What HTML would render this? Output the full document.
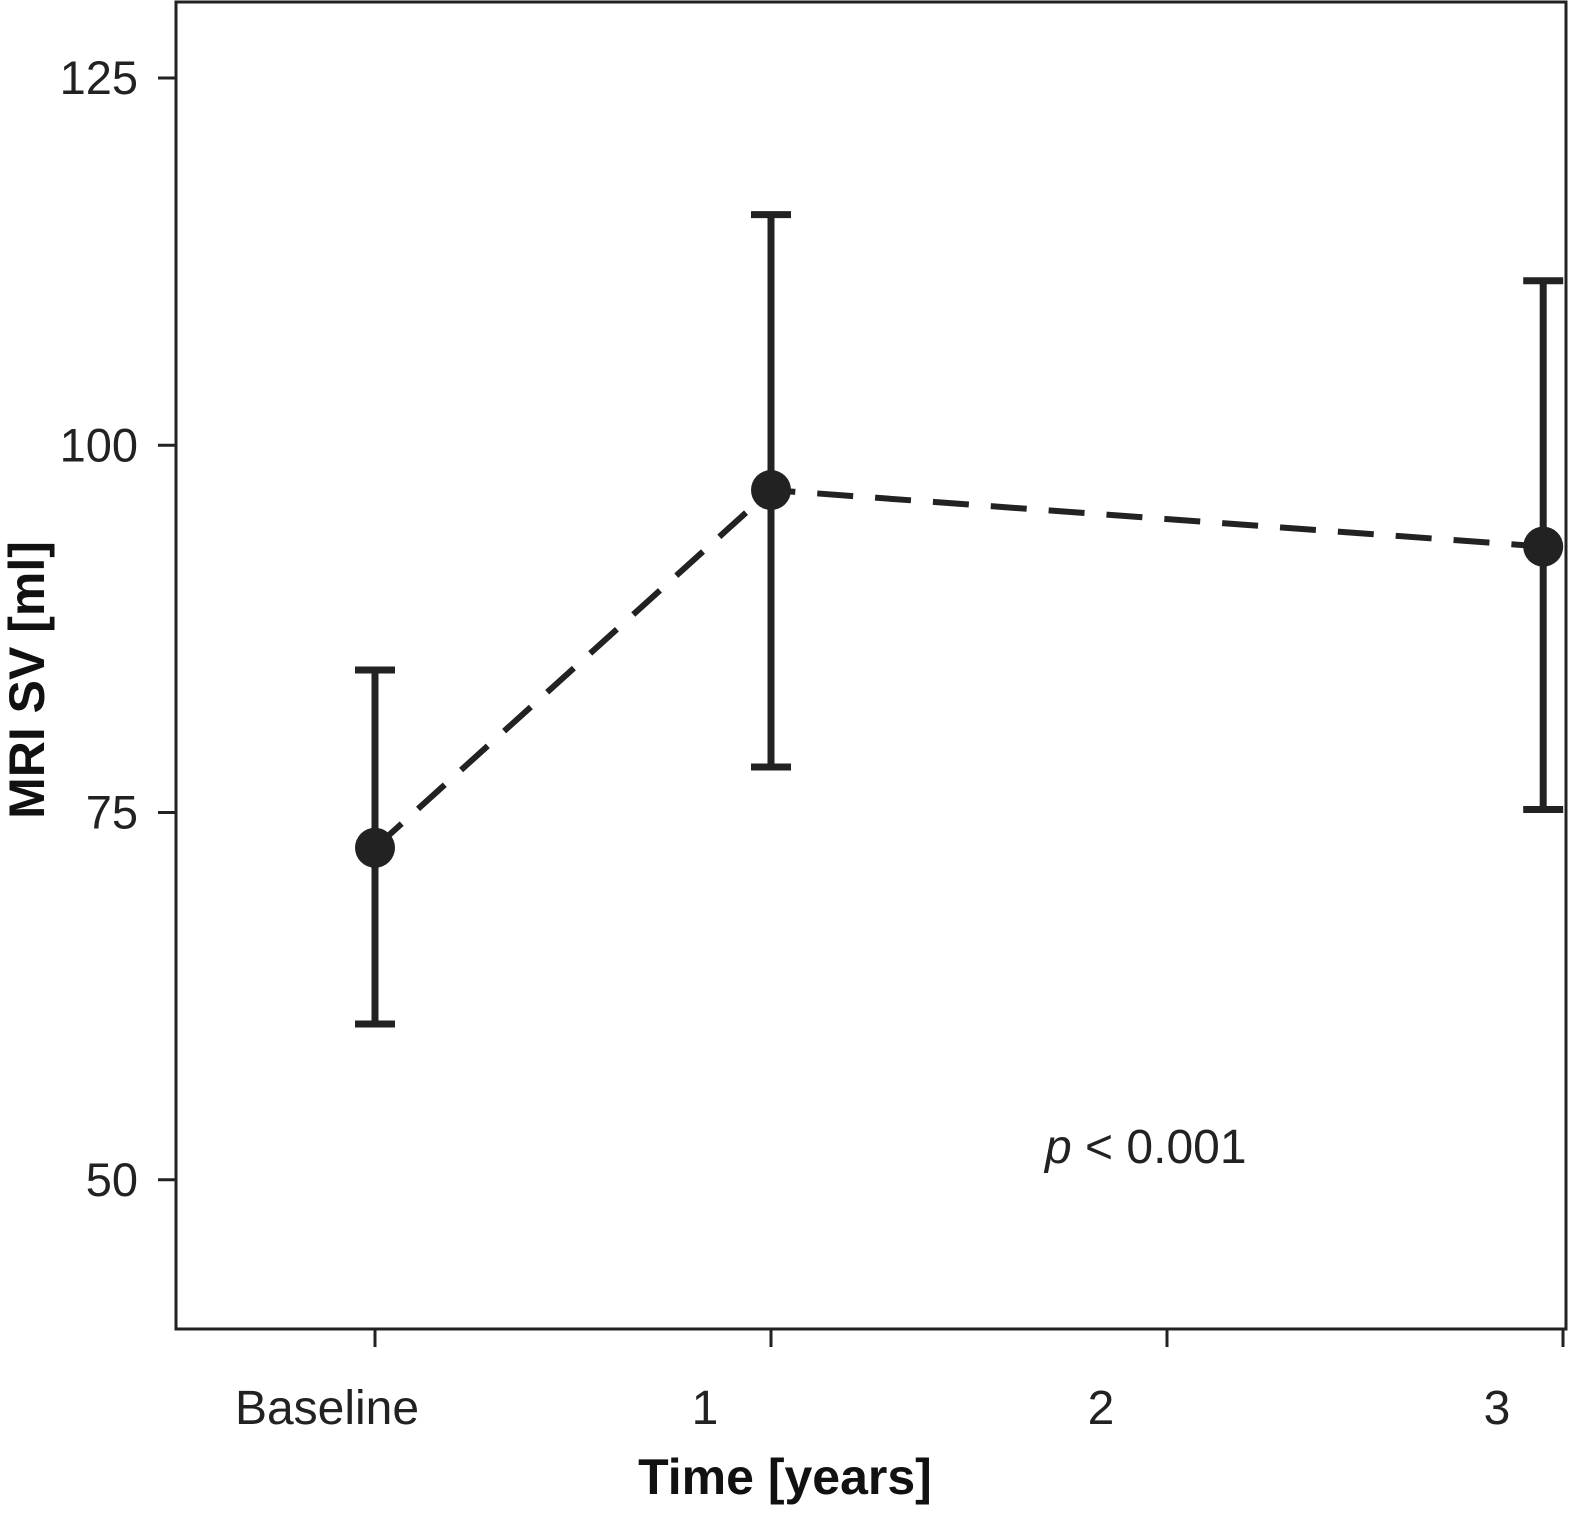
<!DOCTYPE html>
<html><head><meta charset="utf-8"><style>
html,body{margin:0;padding:0;background:#fff;}
svg{display:block;font-family:"Liberation Sans",sans-serif;}
</style></head><body>
<svg id="chart" width="1576" height="1514" viewBox="0 0 1576 1514">
<rect x="176" y="2" width="1390" height="1327" fill="none" stroke="#222" stroke-width="3"/>
<g id="axes"></g>
<g id="marks"></g>
<text x="1045" y="1163" font-size="48" font-weight="300" fill="#222"><tspan font-style="italic">p</tspan> &lt; 0.001</text>
<text x="785" y="1494" font-size="50" font-weight="bold" text-anchor="middle" fill="#111">Time [years]</text>
<text transform="translate(44,680) rotate(-90)" font-size="50" font-weight="bold" text-anchor="middle" fill="#111">MRI SV [ml]</text>
</svg>
<script>
const categories = ["Baseline","1","2","3"];
const xTickPositions = [0,1,2,3];
const yTicks = [50,75,100,125];
const pointX = [0,1,2.95];
const means = [72.6,96.95,93.1];
const upper = [84.7,115.7,111.2];
const lower = [60.6,78.1,75.2];

const NS="http://www.w3.org/2000/svg";
const X = v => 375 + v*396;
const Y = v => 78 + (125 - v)*14.69;
function mk(tag, attrs, parent){const e=document.createElementNS(NS,tag);for(const k in attrs)e.setAttribute(k,attrs[k]);parent.appendChild(e);return e;}
const axes=document.getElementById('axes'), marks=document.getElementById('marks');
yTicks.forEach(t=>{
  const l=mk('line',{x1:158,x2:176,y1:Y(t),y2:Y(t),stroke:'#222','stroke-width':3},axes);
  
  
  const tx=mk('text',{x:138,y:Y(t)+16,'font-size':47,'font-weight':300,'text-anchor':'end',fill:'#222'},axes);
  tx.textContent=t;
  
  
});
categories.forEach((c,i)=>{
  const x=X(xTickPositions[i]);
  const l=mk('line',{x1:x,x2:x,y1:1329,y2:1347,stroke:'#222','stroke-width':3},axes);
  
  
  const tx=mk('text',{x:x-(i===0?48:66),y:1424,'font-size':48,'font-weight':300,'text-anchor':'middle',fill:'#222'},axes);
  tx.textContent=c;
  
  
});
const pts=pointX.map((v,i)=>X(v)+','+Y(means[i])).join(' ');
const line=mk('polyline',{points:pts,fill:'none',stroke:'#222','stroke-width':6,'stroke-dasharray':'36 22'},marks);


pointX.forEach((v,i)=>{
  const x=X(v);
  const eb=mk('path',{d:`M${x},${Y(upper[i])}V${Y(lower[i])}M${x-20},${Y(upper[i])}H${Math.min(x+20,1566)}M${x-20},${Y(lower[i])}H${Math.min(x+20,1566)}`,stroke:'#222','stroke-width':7,fill:'none'},marks);
  
  
  const c=mk('circle',{cx:x,cy:Y(means[i]),r:20,fill:'#222'},marks);
  
  
});
</script>
</body></html>
